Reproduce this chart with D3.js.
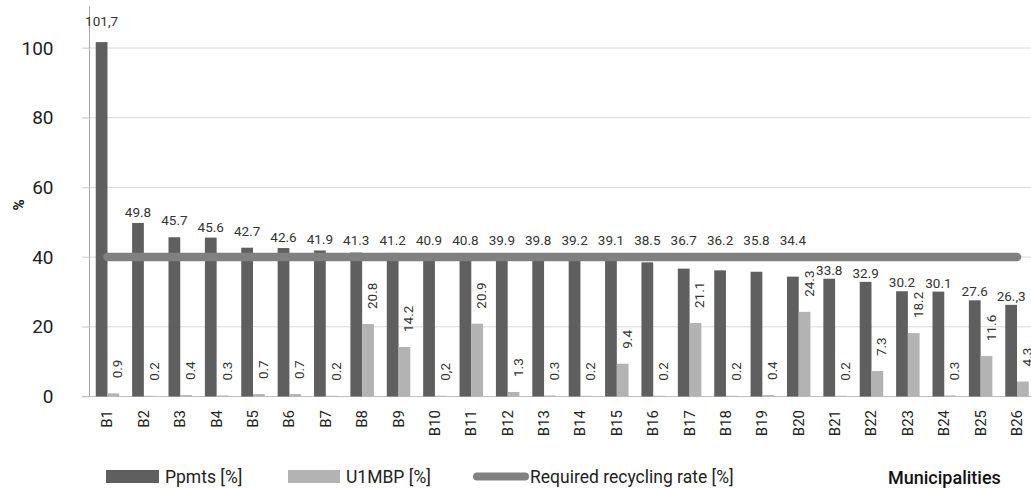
<!DOCTYPE html>
<html>
<head>
<meta charset="utf-8">
<script src="https://cdn.jsdelivr.net/npm/d3@7"></script>
<style>
  html, body { margin: 0; padding: 0; background: #fff; }
  svg { display: block; font-family: Roboto, "Noto Sans", sans-serif; }
</style>
</head>
<body>
<svg id="chart" width="1031" height="488"></svg>
<script>
// Municipalities B1..B26
const categories = ["B1","B2","B3","B4","B5","B6","B7","B8","B9","B10","B11","B12","B13",
  "B14","B15","B16","B17","B18","B19","B20","B21","B22","B23","B24","B25","B26"];

// Ppmts [%]
const ppmts = [101.7, 49.8, 45.7, 45.6, 42.7, 42.6, 41.9, 41.3, 41.2, 40.9, 40.8, 39.9, 39.8,
  39.2, 39.1, 38.5, 36.7, 36.2, 35.8, 34.4, 33.8, 32.9, 30.2, 30.1, 27.6, 26.3];

// U1MBP [%]
const u1mbp = [0.9, 0.2, 0.4, 0.3, 0.7, 0.7, 0.2, 20.8, 14.2, 0.2, 20.9, 1.3, 0.3,
  0.2, 9.4, 0.2, 21.1, 0.2, 0.4, 24.3, 0.2, 7.3, 18.2, 0.3, 11.6, 4.3];

// Required recycling rate [%]
const requiredRate = categories.map(() => 40);

// Y axis ticks
const yTicks = [0, 20, 40, 60, 80, 100];

// Data label texts written differently from the default format
const ppmtsLabelText = { B1: "101,7", B26: "26.,3" };
const u1mbpLabelText = { B10: "0,2" };

const seriesNames = ["Ppmts [%]", "U1MBP [%]", "Required recycling rate [%]"];

const C_DARK = "#5f5f5f", C_LIGHT = "#b3b3b3", C_LINE = "#808080";

const svg = d3.select("#chart");
const fmt = d3.format(".1f");

const x0 = d3.scaleBand().domain(categories).range([89.3, 1035.2])
  .paddingInner(0.354).paddingOuter(0.177);
const x1 = d3.scaleBand().domain(["ppmts", "u1mbp"]).range([0, x0.bandwidth()]);
const y = d3.scaleLinear().domain([0, 112]).range([396.5, 6.2]);

// Gridlines with short outer ticks
const grid = svg.append("g");
grid.selectAll("line").data(yTicks.filter(d => d > 0)).join("line")
  .attr("x1", 82).attr("x2", 1031)
  .attr("y1", d => y(d)).attr("y2", d => y(d))
  .attr("stroke", "#d9d9d9").attr("stroke-width", 1);

// Y axis
const yAxis = svg.append("g").attr("transform", "translate(89.5,0)")
  .call(d3.axisLeft(y).tickValues(yTicks).tickSize(7).tickPadding(29).tickFormat(d3.format("d")));
yAxis.select(".domain").attr("stroke", "#a6a6a6").attr("d", `M0,${y(112)}V${y(0)}`);
yAxis.selectAll(".tick line").attr("stroke", "#d9d9d9");
yAxis.selectAll(".tick text").attr("font-size", 19).attr("fill", "#222")
  .attr("font-family", "Roboto");

// Baseline
svg.append("line").attr("x1", 82).attr("x2", 1031).attr("y1", y(0)).attr("y2", y(0))
  .attr("stroke", "#bfbfbf").attr("stroke-width", 1.2);

// Y axis title
svg.append("text").attr("transform", `translate(24,${205}) rotate(-90)`)
  .attr("text-anchor", "middle").attr("font-size", 15).attr("font-weight", 700)
  .attr("fill", "#111").text("%");

// Bars
const groups = svg.append("g").selectAll("g").data(categories).join("g")
  .attr("transform", d => `translate(${x0(d)},0)`);

groups.append("rect")
  .attr("x", x1("ppmts")).attr("width", x1.bandwidth())
  .attr("y", (d, i) => y(ppmts[i])).attr("height", (d, i) => y(0) - y(ppmts[i]))
  .attr("fill", C_DARK);

groups.append("rect")
  .attr("x", x1("u1mbp")).attr("width", x1.bandwidth())
  .attr("y", (d, i) => y(u1mbp[i])).attr("height", (d, i) => y(0) - y(u1mbp[i]))
  .attr("fill", C_LIGHT);

// Required recycling rate line
const line = d3.line()
  .x((d, i) => x0(categories[i]) + x0.bandwidth() / 2)
  .y(d => y(d));
svg.append("path").datum(requiredRate)
  .attr("d", line).attr("fill", "none")
  .attr("stroke", C_LINE).attr("stroke-width", 8.5).attr("stroke-linecap", "round");

// Ppmts labels: lifted clear of the recycling-rate line when the bar ends near it
const lineTop = y(40) - 12;
groups.append("text")
  .attr("x", x1("ppmts") + x1.bandwidth() / 2)
  .attr("y", (d, i) => {
    const v = ppmts[i];
    if (v > 100) return y(v) - 16;
    if (v >= 34) return Math.min(y(v) - 6 - (i % 2 === 1 && v > 42 ? 0 : (v > 42 ? 6 : 0)), lineTop);
    return y(v) - 4;
  })
  .attr("text-anchor", "middle").attr("font-size", 13.5).attr("fill", "#333")
  .text((d, i) => ppmtsLabelText[d] || fmt(ppmts[i]));

// U1MBP labels, rotated
groups.append("text")
  .attr("transform", (d, i) => `translate(${x1("u1mbp") + x1.bandwidth() / 2 + 4},${y(u1mbp[i]) - 15}) rotate(-90)`)
  .attr("text-anchor", "start").attr("dominant-baseline", "central")
  .attr("font-size", 13.5).attr("fill", "#333")
  .text((d, i) => u1mbpLabelText[d] || fmt(u1mbp[i]));

// Category labels
groups.append("text")
  .attr("transform", `translate(${x0.bandwidth() / 2},410) rotate(-90)`)
  .attr("text-anchor", "end").attr("dominant-baseline", "central")
  .attr("font-size", 15).attr("fill", "#222")
  .text(d => d);

// Legend
const legend = svg.append("g").attr("font-size", 17.5).attr("fill", "#222");
legend.append("rect").attr("x", 106).attr("y", 470).attr("width", 53).attr("height", 13).attr("fill", C_DARK);
legend.append("text").attr("x", 165).attr("y", 477).attr("dominant-baseline", "central").text(seriesNames[0]);
legend.append("rect").attr("x", 288).attr("y", 470).attr("width", 52).attr("height", 13).attr("fill", C_LIGHT);
legend.append("text").attr("x", 346).attr("y", 477).attr("dominant-baseline", "central").text(seriesNames[1]);
legend.append("line").attr("x1", 477).attr("x2", 525).attr("y1", 476.5).attr("y2", 476.5)
  .attr("stroke", C_LINE).attr("stroke-width", 8).attr("stroke-linecap", "round");
legend.append("text").attr("x", 530).attr("y", 477).attr("dominant-baseline", "central").text(seriesNames[2]);

// X axis title
svg.append("text").attr("x", 888).attr("y", 477).attr("dominant-baseline", "central")
  .attr("font-size", 18).attr("font-weight", 500).attr("fill", "#111").text("Municipalities");
</script>
</body>
</html>
